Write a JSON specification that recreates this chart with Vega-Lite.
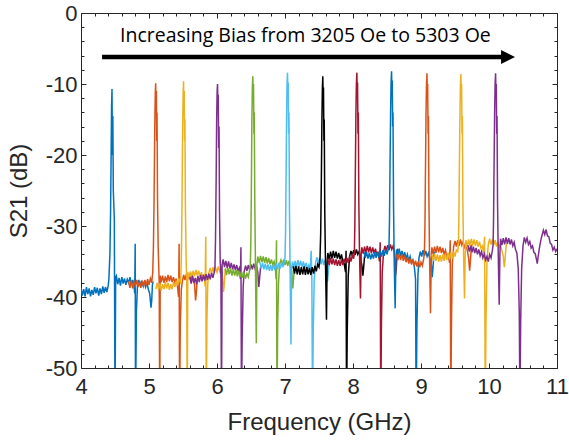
{
  "$schema": "https://vega.github.io/schema/vega-lite/v6.json",
  "autosize": {"type": "none"},
  "width": 476,
  "height": 355,
  "padding": {"left": 81, "top": 13, "right": 12, "bottom": 75},
  "background": "white",
  "config": {
    "view": {"stroke": "#262626", "strokeWidth": 1},
    "axis": {
      "labelFont": "Liberation Sans",
      "titleFont": "Liberation Sans",
      "labelColor": "#262626",
      "titleColor": "#262626",
      "tickColor": "#262626",
      "domainColor": "#262626",
      "labelFontSize": 22,
      "titleFontSize": 24,
      "titleFontWeight": "normal",
      "grid": false,
      "domain": false
    }
  },
  "resolve": {"axis": {"x": "independent", "y": "independent"}},
  "layer": [
    {
      "data": {"values": [
{"f":4.00,"s":-38.7,"t":1},{"f":4.02,"s":-39.8,"t":1},{"f":4.04,"s":-38.9,"t":1},{"f":4.06,"s":-39.9,"t":1},{"f":4.08,"s":-38.6,"t":1},{"f":4.10,"s":-39.6,"t":1},{"f":4.12,"s":-38.8,"t":1},{"f":4.14,"s":-39.9,"t":1},{"f":4.16,"s":-39.0,"t":1},{"f":4.18,"s":-39.7,"t":1},{"f":4.20,"s":-38.6,"t":1},{"f":4.22,"s":-39.5,"t":1},{"f":4.24,"s":-38.7,"t":1},{"f":4.26,"s":-39.8,"t":1},{"f":4.28,"s":-38.8,"t":1},{"f":4.30,"s":-39.6,"t":1},{"f":4.32,"s":-38.5,"t":1},{"f":4.34,"s":-39.4,"t":1},{"f":4.36,"s":-38.6,"t":1},{"f":4.38,"s":-39.3,"t":1},{"f":4.40,"s":-38.4,"t":1},{"f":4.41,"s":-37.5,"t":1},{"f":4.425,"s":-34,"t":1},{"f":4.435,"s":-28,"t":1},{"f":4.443,"s":-20,"t":1},{"f":4.45,"s":-13,"t":1},{"f":4.456,"s":-10.7,"t":1},{"f":4.462,"s":-20,"t":1},{"f":4.468,"s":-14.5,"t":1},{"f":4.475,"s":-25,"t":1},{"f":4.49,"s":-29,"t":1},{"f":4.50,"s":-56,"t":1},{"f":4.51,"s":-37.2,"t":1},{"f":4.52,"s":-37.0,"t":1},{"f":4.54,"s":-38.2,"t":1},{"f":4.56,"s":-37.3,"t":1},{"f":4.58,"s":-38.4,"t":1},{"f":4.60,"s":-37.2,"t":1},{"f":4.62,"s":-38.1,"t":1},{"f":4.64,"s":-37.4,"t":1},{"f":4.66,"s":-38.3,"t":1},{"f":4.68,"s":-37.5,"t":1},{"f":4.70,"s":-38.0,"t":1},{"f":4.72,"s":-37.2,"t":1},{"f":4.74,"s":-38.3,"t":1},{"f":4.76,"s":-37.6,"t":1},{"f":4.78,"s":-38.4,"t":1},{"f":4.79,"s":-39.5,"t":1},{"f":4.797,"s":-32.5,"t":1},{"f":4.802,"s":-56,"t":1},{"f":4.815,"s":-42,"t":1},{"f":4.83,"s":-38.5,"t":1},{"f":4.85,"s":-37.6,"t":1},{"f":4.87,"s":-38.4,"t":1},{"f":4.89,"s":-37.7,"t":1},{"f":4.91,"s":-38.5,"t":1},{"f":4.93,"s":-37.8,"t":1},{"f":4.95,"s":-38.6,"t":1},{"f":4.97,"s":-38.0,"t":1},{"f":4.99,"s":-38.9,"t":1},{"f":5.01,"s":-39.5,"t":1},{"f":5.03,"s":-41.5,"t":1},{"f":5.04,"s":-40.5,"t":1},{"f":5.05,"s":-38.3,"t":1},{"f":5.06,"s":-37.8,"t":1},
{"f":4.70,"s":-37.8,"t":2},{"f":4.72,"s":-38.7,"t":2},{"f":4.74,"s":-37.7,"t":2},{"f":4.76,"s":-38.8,"t":2},{"f":4.78,"s":-37.9,"t":2},{"f":4.80,"s":-38.5,"t":2},{"f":4.82,"s":-37.6,"t":2},{"f":4.84,"s":-38.6,"t":2},{"f":4.86,"s":-37.8,"t":2},{"f":4.88,"s":-38.7,"t":2},{"f":4.90,"s":-37.9,"t":2},{"f":4.92,"s":-38.5,"t":2},{"f":4.94,"s":-37.6,"t":2},{"f":4.96,"s":-38.4,"t":2},{"f":4.98,"s":-37.5,"t":2},{"f":5.00,"s":-38.3,"t":2},{"f":5.02,"s":-37.4,"t":2},{"f":5.04,"s":-38.0,"t":2},{"f":5.055,"s":-36.5,"t":2},{"f":5.065,"s":-33,"t":2},{"f":5.075,"s":-26,"t":2},{"f":5.085,"s":-16,"t":2},{"f":5.092,"s":-11.5,"t":2},{"f":5.098,"s":-9.9,"t":2},{"f":5.103,"s":-13,"t":2},{"f":5.108,"s":-11,"t":2},{"f":5.113,"s":-18,"t":2},{"f":5.118,"s":-14,"t":2},{"f":5.125,"s":-26,"t":2},{"f":5.135,"s":-33,"t":2},{"f":5.15,"s":-38,"t":2},{"f":5.158,"s":-56,"t":2},{"f":5.165,"s":-37.0,"t":2},{"f":5.18,"s":-37.9,"t":2},{"f":5.20,"s":-37.0,"t":2},{"f":5.22,"s":-38.0,"t":2},{"f":5.24,"s":-37.1,"t":2},{"f":5.26,"s":-37.9,"t":2},{"f":5.28,"s":-36.9,"t":2},{"f":5.30,"s":-37.8,"t":2},{"f":5.32,"s":-37.0,"t":2},{"f":5.34,"s":-37.9,"t":2},{"f":5.36,"s":-37.2,"t":2},{"f":5.38,"s":-38.0,"t":2},{"f":5.40,"s":-37.4,"t":2},{"f":5.42,"s":-38.6,"t":2},{"f":5.435,"s":-40,"t":2},{"f":5.443,"s":-32.5,"t":2},{"f":5.45,"s":-56,"t":2},{"f":5.46,"s":-44,"t":2},{"f":5.475,"s":-39,"t":2},{"f":5.49,"s":-37.8,"t":2},{"f":5.51,"s":-36.9,"t":2},{"f":5.53,"s":-37.6,"t":2},{"f":5.55,"s":-36.8,"t":2},{"f":5.57,"s":-37.5,"t":2},{"f":5.59,"s":-36.7,"t":2},{"f":5.61,"s":-37.6,"t":2},{"f":5.63,"s":-36.9,"t":2},{"f":5.65,"s":-37.7,"t":2},{"f":5.67,"s":-38.2,"t":2},{"f":5.685,"s":-40.5,"t":2},{"f":5.695,"s":-39.5,"t":2},{"f":5.71,"s":-37.5,"t":2},{"f":5.72,"s":-37.0,"t":2},
{"f":5.10,"s":-38.9,"t":3},{"f":5.12,"s":-38.0,"t":3},{"f":5.14,"s":-39.0,"t":3},{"f":5.16,"s":-38.1,"t":3},{"f":5.18,"s":-39.1,"t":3},{"f":5.20,"s":-38.2,"t":3},{"f":5.22,"s":-38.9,"t":3},{"f":5.24,"s":-37.9,"t":3},{"f":5.26,"s":-38.8,"t":3},{"f":5.28,"s":-38.0,"t":3},{"f":5.30,"s":-39.0,"t":3},{"f":5.32,"s":-38.2,"t":3},{"f":5.34,"s":-38.9,"t":3},{"f":5.36,"s":-37.9,"t":3},{"f":5.38,"s":-38.6,"t":3},{"f":5.40,"s":-37.7,"t":3},{"f":5.42,"s":-38.4,"t":3},{"f":5.44,"s":-37.5,"t":3},{"f":5.46,"s":-37.9,"t":3},{"f":5.47,"s":-36.8,"t":3},{"f":5.478,"s":-33,"t":3},{"f":5.487,"s":-25,"t":3},{"f":5.495,"s":-16,"t":3},{"f":5.502,"s":-11.5,"t":3},{"f":5.508,"s":-9.6,"t":3},{"f":5.513,"s":-13,"t":3},{"f":5.518,"s":-11,"t":3},{"f":5.523,"s":-18,"t":3},{"f":5.528,"s":-15,"t":3},{"f":5.535,"s":-27,"t":3},{"f":5.545,"s":-34,"t":3},{"f":5.555,"s":-38,"t":3},{"f":5.562,"s":-56,"t":3},{"f":5.57,"s":-36.5,"t":3},{"f":5.59,"s":-37.3,"t":3},{"f":5.61,"s":-36.4,"t":3},{"f":5.63,"s":-37.2,"t":3},{"f":5.65,"s":-36.3,"t":3},{"f":5.67,"s":-37.1,"t":3},{"f":5.69,"s":-36.2,"t":3},{"f":5.71,"s":-37.0,"t":3},{"f":5.73,"s":-36.3,"t":3},{"f":5.75,"s":-37.2,"t":3},{"f":5.77,"s":-36.5,"t":3},{"f":5.79,"s":-37.4,"t":3},{"f":5.81,"s":-36.8,"t":3},{"f":5.825,"s":-38.5,"t":3},{"f":5.835,"s":-31.5,"t":3},{"f":5.842,"s":-56,"t":3},{"f":5.852,"s":-43,"t":3},{"f":5.865,"s":-38,"t":3},{"f":5.88,"s":-36.6,"t":3},{"f":5.90,"s":-35.9,"t":3},{"f":5.92,"s":-36.7,"t":3},{"f":5.94,"s":-35.8,"t":3},{"f":5.96,"s":-36.6,"t":3},{"f":5.98,"s":-35.9,"t":3},{"f":6.00,"s":-36.5,"t":3},{"f":6.02,"s":-35.7,"t":3},{"f":6.04,"s":-36.4,"t":3},{"f":6.06,"s":-35.8,"t":3},{"f":6.08,"s":-37.0,"t":3},{"f":6.095,"s":-39.3,"t":3},{"f":6.105,"s":-38.5,"t":3},{"f":6.12,"s":-36.3,"t":3},{"f":6.13,"s":-35.9,"t":3},
{"f":5.60,"s":-37.2,"t":4},{"f":5.62,"s":-38.1,"t":4},{"f":5.64,"s":-37.0,"t":4},{"f":5.66,"s":-38.0,"t":4},{"f":5.68,"s":-37.3,"t":4},{"f":5.70,"s":-38.2,"t":4},{"f":5.72,"s":-37.1,"t":4},{"f":5.74,"s":-37.9,"t":4},{"f":5.76,"s":-36.9,"t":4},{"f":5.78,"s":-37.8,"t":4},{"f":5.80,"s":-36.9,"t":4},{"f":5.82,"s":-37.7,"t":4},{"f":5.84,"s":-36.8,"t":4},{"f":5.86,"s":-37.6,"t":4},{"f":5.88,"s":-36.7,"t":4},{"f":5.90,"s":-37.5,"t":4},{"f":5.92,"s":-36.6,"t":4},{"f":5.94,"s":-37.3,"t":4},{"f":5.96,"s":-36.5,"t":4},{"f":5.97,"s":-35.8,"t":4},{"f":5.978,"s":-32,"t":4},{"f":5.987,"s":-24,"t":4},{"f":5.995,"s":-15,"t":4},{"f":6.002,"s":-11,"t":4},{"f":6.008,"s":-10.0,"t":4},{"f":6.013,"s":-13,"t":4},{"f":6.018,"s":-11.5,"t":4},{"f":6.024,"s":-19,"t":4},{"f":6.03,"s":-16,"t":4},{"f":6.037,"s":-28,"t":4},{"f":6.047,"s":-35,"t":4},{"f":6.058,"s":-37,"t":4},{"f":6.066,"s":-56,"t":4},{"f":6.075,"s":-35.5,"t":4},{"f":6.09,"s":-34.7,"t":4},{"f":6.11,"s":-35.8,"t":4},{"f":6.13,"s":-34.9,"t":4},{"f":6.15,"s":-35.9,"t":4},{"f":6.17,"s":-35.0,"t":4},{"f":6.19,"s":-36.0,"t":4},{"f":6.21,"s":-35.2,"t":4},{"f":6.23,"s":-36.1,"t":4},{"f":6.25,"s":-35.4,"t":4},{"f":6.27,"s":-36.2,"t":4},{"f":6.29,"s":-35.5,"t":4},{"f":6.31,"s":-36.3,"t":4},{"f":6.33,"s":-35.9,"t":4},{"f":6.345,"s":-37.5,"t":4},{"f":6.352,"s":-33,"t":4},{"f":6.36,"s":-56,"t":4},{"f":6.37,"s":-46,"t":4},{"f":6.385,"s":-38.5,"t":4},{"f":6.40,"s":-36.4,"t":4},{"f":6.42,"s":-35.6,"t":4},{"f":6.44,"s":-36.3,"t":4},{"f":6.46,"s":-35.5,"t":4},{"f":6.48,"s":-36.2,"t":4},{"f":6.50,"s":-35.4,"t":4},{"f":6.52,"s":-36.1,"t":4},{"f":6.54,"s":-35.3,"t":4},{"f":6.56,"s":-36.0,"t":4},{"f":6.58,"s":-35.6,"t":4},{"f":6.60,"s":-36.5,"t":4},{"f":6.615,"s":-38.6,"t":4},{"f":6.625,"s":-37.5,"t":4},{"f":6.64,"s":-35.9,"t":4},{"f":6.65,"s":-35.5,"t":4},
{"f":6.12,"s":-36.0,"t":5},{"f":6.14,"s":-36.9,"t":5},{"f":6.16,"s":-35.9,"t":5},{"f":6.18,"s":-36.8,"t":5},{"f":6.20,"s":-36.0,"t":5},{"f":6.22,"s":-37.0,"t":5},{"f":6.24,"s":-36.1,"t":5},{"f":6.26,"s":-37.0,"t":5},{"f":6.28,"s":-36.2,"t":5},{"f":6.30,"s":-37.1,"t":5},{"f":6.32,"s":-36.3,"t":5},{"f":6.34,"s":-37.2,"t":5},{"f":6.36,"s":-36.4,"t":5},{"f":6.38,"s":-37.3,"t":5},{"f":6.40,"s":-36.6,"t":5},{"f":6.42,"s":-37.4,"t":5},{"f":6.44,"s":-36.7,"t":5},{"f":6.46,"s":-37.2,"t":5},{"f":6.48,"s":-36.2,"t":5},{"f":6.49,"s":-35.6,"t":5},{"f":6.498,"s":-32,"t":5},{"f":6.506,"s":-24,"t":5},{"f":6.513,"s":-15,"t":5},{"f":6.52,"s":-10.5,"t":5},{"f":6.527,"s":-8.9,"t":5},{"f":6.532,"s":-12,"t":5},{"f":6.537,"s":-10,"t":5},{"f":6.543,"s":-17,"t":5},{"f":6.548,"s":-14,"t":5},{"f":6.556,"s":-27,"t":5},{"f":6.566,"s":-36,"t":5},{"f":6.578,"s":-46.5,"t":5},{"f":6.587,"s":-35.5,"t":5},{"f":6.60,"s":-34.3,"t":5},{"f":6.62,"s":-35.2,"t":5},{"f":6.64,"s":-34.2,"t":5},{"f":6.66,"s":-35.1,"t":5},{"f":6.68,"s":-34.3,"t":5},{"f":6.70,"s":-35.2,"t":5},{"f":6.72,"s":-34.4,"t":5},{"f":6.74,"s":-35.3,"t":5},{"f":6.76,"s":-34.5,"t":5},{"f":6.78,"s":-35.4,"t":5},{"f":6.80,"s":-34.7,"t":5},{"f":6.82,"s":-35.5,"t":5},{"f":6.84,"s":-35.0,"t":5},{"f":6.86,"s":-36.0,"t":5},{"f":6.868,"s":-37.5,"t":5},{"f":6.875,"s":-32,"t":5},{"f":6.882,"s":-56,"t":5},{"f":6.892,"s":-44,"t":5},{"f":6.905,"s":-38,"t":5},{"f":6.92,"s":-35.4,"t":5},{"f":6.94,"s":-34.8,"t":5},{"f":6.96,"s":-35.6,"t":5},{"f":6.98,"s":-34.7,"t":5},{"f":7.00,"s":-35.5,"t":5},{"f":7.02,"s":-34.8,"t":5},{"f":7.04,"s":-35.6,"t":5},{"f":7.06,"s":-34.9,"t":5},{"f":7.08,"s":-35.7,"t":5},{"f":7.10,"s":-36.5,"t":5},{"f":7.115,"s":-38.8,"t":5},{"f":7.125,"s":-37.5,"t":5},{"f":7.14,"s":-35.8,"t":5},{"f":7.15,"s":-35.2,"t":5},
{"f":6.63,"s":-35.1,"t":6},{"f":6.65,"s":-36.0,"t":6},{"f":6.67,"s":-35.2,"t":6},{"f":6.69,"s":-36.1,"t":6},{"f":6.71,"s":-35.3,"t":6},{"f":6.73,"s":-36.2,"t":6},{"f":6.75,"s":-35.4,"t":6},{"f":6.77,"s":-36.3,"t":6},{"f":6.79,"s":-35.5,"t":6},{"f":6.81,"s":-36.3,"t":6},{"f":6.83,"s":-35.4,"t":6},{"f":6.85,"s":-36.2,"t":6},{"f":6.87,"s":-35.3,"t":6},{"f":6.89,"s":-36.1,"t":6},{"f":6.91,"s":-35.2,"t":6},{"f":6.93,"s":-36.0,"t":6},{"f":6.95,"s":-35.1,"t":6},{"f":6.97,"s":-35.8,"t":6},{"f":6.99,"s":-35.0,"t":6},{"f":7.00,"s":-34.5,"t":6},{"f":7.008,"s":-31,"t":6},{"f":7.016,"s":-23,"t":6},{"f":7.023,"s":-15,"t":6},{"f":7.03,"s":-10,"t":6},{"f":7.037,"s":-8.4,"t":6},{"f":7.042,"s":-11.5,"t":6},{"f":7.047,"s":-9.8,"t":6},{"f":7.053,"s":-17,"t":6},{"f":7.058,"s":-14,"t":6},{"f":7.066,"s":-28,"t":6},{"f":7.076,"s":-37,"t":6},{"f":7.088,"s":-46.7,"t":6},{"f":7.097,"s":-36,"t":6},{"f":7.11,"s":-35.0,"t":6},{"f":7.13,"s":-35.9,"t":6},{"f":7.15,"s":-34.9,"t":6},{"f":7.17,"s":-35.8,"t":6},{"f":7.19,"s":-34.8,"t":6},{"f":7.21,"s":-35.7,"t":6},{"f":7.23,"s":-34.9,"t":6},{"f":7.25,"s":-35.8,"t":6},{"f":7.27,"s":-35.0,"t":6},{"f":7.29,"s":-35.9,"t":6},{"f":7.31,"s":-35.2,"t":6},{"f":7.33,"s":-36.0,"t":6},{"f":7.35,"s":-35.5,"t":6},{"f":7.37,"s":-36.4,"t":6},{"f":7.385,"s":-33.5,"t":6},{"f":7.395,"s":-37.5,"t":6},{"f":7.405,"s":-56,"t":6},{"f":7.415,"s":-45,"t":6},{"f":7.43,"s":-37.5,"t":6},{"f":7.45,"s":-35.2,"t":6},{"f":7.47,"s":-34.4,"t":6},{"f":7.49,"s":-35.3,"t":6},{"f":7.51,"s":-34.5,"t":6},{"f":7.53,"s":-35.4,"t":6},{"f":7.55,"s":-34.6,"t":6},{"f":7.57,"s":-35.5,"t":6},{"f":7.59,"s":-34.8,"t":6},{"f":7.61,"s":-35.8,"t":6},{"f":7.625,"s":-37.8,"t":6},{"f":7.635,"s":-36.8,"t":6},{"f":7.65,"s":-35.0,"t":6},{"f":7.66,"s":-34.6,"t":6},
{"f":7.12,"s":-35.7,"t":7},{"f":7.14,"s":-36.7,"t":7},{"f":7.16,"s":-35.6,"t":7},{"f":7.18,"s":-36.8,"t":7},{"f":7.20,"s":-35.7,"t":7},{"f":7.22,"s":-36.9,"t":7},{"f":7.24,"s":-35.8,"t":7},{"f":7.26,"s":-36.8,"t":7},{"f":7.28,"s":-35.7,"t":7},{"f":7.30,"s":-36.9,"t":7},{"f":7.32,"s":-35.8,"t":7},{"f":7.34,"s":-36.8,"t":7},{"f":7.36,"s":-35.9,"t":7},{"f":7.38,"s":-36.9,"t":7},{"f":7.40,"s":-35.8,"t":7},{"f":7.42,"s":-36.7,"t":7},{"f":7.44,"s":-35.6,"t":7},{"f":7.46,"s":-36.4,"t":7},{"f":7.48,"s":-35.4,"t":7},{"f":7.50,"s":-35.8,"t":7},{"f":7.515,"s":-34.5,"t":7},{"f":7.525,"s":-31,"t":7},{"f":7.535,"s":-23,"t":7},{"f":7.543,"s":-15,"t":7},{"f":7.55,"s":-10.5,"t":7},{"f":7.556,"s":-8.9,"t":7},{"f":7.561,"s":-12,"t":7},{"f":7.566,"s":-10.5,"t":7},{"f":7.572,"s":-18,"t":7},{"f":7.577,"s":-15,"t":7},{"f":7.585,"s":-28,"t":7},{"f":7.595,"s":-35,"t":7},{"f":7.61,"s":-43.2,"t":7},{"f":7.62,"s":-35,"t":7},{"f":7.63,"s":-33.8,"t":7},{"f":7.65,"s":-34.7,"t":7},{"f":7.67,"s":-33.6,"t":7},{"f":7.69,"s":-34.6,"t":7},{"f":7.71,"s":-33.5,"t":7},{"f":7.73,"s":-34.5,"t":7},{"f":7.75,"s":-33.6,"t":7},{"f":7.77,"s":-34.6,"t":7},{"f":7.79,"s":-33.8,"t":7},{"f":7.81,"s":-34.7,"t":7},{"f":7.83,"s":-34.0,"t":7},{"f":7.85,"s":-35.0,"t":7},{"f":7.87,"s":-35.3,"t":7},{"f":7.89,"s":-36.5,"t":7},{"f":7.898,"s":-33.5,"t":7},{"f":7.905,"s":-56,"t":7},{"f":7.915,"s":-45,"t":7},{"f":7.93,"s":-37,"t":7},{"f":7.95,"s":-34.3,"t":7},{"f":7.97,"s":-33.5,"t":7},{"f":7.99,"s":-34.2,"t":7},{"f":8.01,"s":-33.4,"t":7},{"f":8.03,"s":-34.1,"t":7},{"f":8.05,"s":-33.3,"t":7},{"f":8.07,"s":-34.0,"t":7},{"f":8.09,"s":-33.6,"t":7},{"f":8.11,"s":-34.5,"t":7},{"f":8.13,"s":-35.5,"t":7},{"f":8.145,"s":-37.0,"t":7},{"f":8.155,"s":-36.0,"t":7},{"f":8.17,"s":-34.3,"t":7},{"f":8.18,"s":-33.8,"t":7},
{"f":7.63,"s":-34.6,"t":8},{"f":7.65,"s":-35.5,"t":8},{"f":7.67,"s":-34.5,"t":8},{"f":7.69,"s":-35.4,"t":8},{"f":7.71,"s":-34.6,"t":8},{"f":7.73,"s":-35.5,"t":8},{"f":7.75,"s":-34.7,"t":8},{"f":7.77,"s":-35.6,"t":8},{"f":7.79,"s":-34.8,"t":8},{"f":7.81,"s":-35.6,"t":8},{"f":7.83,"s":-34.7,"t":8},{"f":7.85,"s":-35.5,"t":8},{"f":7.87,"s":-34.6,"t":8},{"f":7.89,"s":-35.3,"t":8},{"f":7.91,"s":-34.5,"t":8},{"f":7.93,"s":-35.2,"t":8},{"f":7.95,"s":-34.3,"t":8},{"f":7.97,"s":-35.0,"t":8},{"f":7.99,"s":-34.1,"t":8},{"f":8.01,"s":-34.6,"t":8},{"f":8.02,"s":-33.8,"t":8},{"f":8.027,"s":-30,"t":8},{"f":8.035,"s":-22,"t":8},{"f":8.043,"s":-14,"t":8},{"f":8.05,"s":-10,"t":8},{"f":8.057,"s":-8.4,"t":8},{"f":8.062,"s":-11.5,"t":8},{"f":8.067,"s":-9.8,"t":8},{"f":8.073,"s":-17,"t":8},{"f":8.078,"s":-14,"t":8},{"f":8.086,"s":-27,"t":8},{"f":8.096,"s":-34,"t":8},{"f":8.11,"s":-40.2,"t":8},{"f":8.12,"s":-34,"t":8},{"f":8.13,"s":-33.0,"t":8},{"f":8.15,"s":-33.9,"t":8},{"f":8.17,"s":-32.9,"t":8},{"f":8.19,"s":-33.8,"t":8},{"f":8.21,"s":-32.8,"t":8},{"f":8.23,"s":-33.7,"t":8},{"f":8.25,"s":-32.9,"t":8},{"f":8.27,"s":-33.8,"t":8},{"f":8.29,"s":-33.0,"t":8},{"f":8.31,"s":-33.9,"t":8},{"f":8.33,"s":-33.2,"t":8},{"f":8.35,"s":-34.1,"t":8},{"f":8.37,"s":-33.8,"t":8},{"f":8.39,"s":-35.0,"t":8},{"f":8.40,"s":-32.3,"t":8},{"f":8.408,"s":-56,"t":8},{"f":8.418,"s":-44,"t":8},{"f":8.43,"s":-36.5,"t":8},{"f":8.45,"s":-33.6,"t":8},{"f":8.47,"s":-32.8,"t":8},{"f":8.49,"s":-33.5,"t":8},{"f":8.51,"s":-32.7,"t":8},{"f":8.53,"s":-33.4,"t":8},{"f":8.55,"s":-32.6,"t":8},{"f":8.57,"s":-33.3,"t":8},{"f":8.59,"s":-32.8,"t":8},{"f":8.61,"s":-33.8,"t":8},{"f":8.625,"s":-37.0,"t":8},{"f":8.635,"s":-36.2,"t":8},{"f":8.65,"s":-33.6,"t":8},{"f":8.66,"s":-33.2,"t":8},
{"f":8.16,"s":-33.6,"t":9},{"f":8.18,"s":-34.5,"t":9},{"f":8.20,"s":-33.7,"t":9},{"f":8.22,"s":-34.6,"t":9},{"f":8.24,"s":-33.8,"t":9},{"f":8.26,"s":-34.7,"t":9},{"f":8.28,"s":-33.9,"t":9},{"f":8.30,"s":-34.6,"t":9},{"f":8.32,"s":-33.7,"t":9},{"f":8.34,"s":-34.5,"t":9},{"f":8.36,"s":-33.6,"t":9},{"f":8.38,"s":-34.4,"t":9},{"f":8.40,"s":-33.5,"t":9},{"f":8.42,"s":-34.3,"t":9},{"f":8.44,"s":-33.4,"t":9},{"f":8.46,"s":-34.2,"t":9},{"f":8.48,"s":-33.3,"t":9},{"f":8.50,"s":-34.0,"t":9},{"f":8.52,"s":-33.2,"t":9},{"f":8.53,"s":-32.6,"t":9},{"f":8.537,"s":-29,"t":9},{"f":8.545,"s":-21,"t":9},{"f":8.553,"s":-14,"t":9},{"f":8.56,"s":-9.8,"t":9},{"f":8.567,"s":-8.2,"t":9},{"f":8.572,"s":-11,"t":9},{"f":8.577,"s":-9.5,"t":9},{"f":8.583,"s":-16,"t":9},{"f":8.588,"s":-14,"t":9},{"f":8.596,"s":-27,"t":9},{"f":8.606,"s":-35,"t":9},{"f":8.62,"s":-41.6,"t":9},{"f":8.63,"s":-35,"t":9},{"f":8.64,"s":-33.3,"t":9},{"f":8.66,"s":-34.1,"t":9},{"f":8.68,"s":-33.2,"t":9},{"f":8.70,"s":-34.2,"t":9},{"f":8.72,"s":-33.5,"t":9},{"f":8.74,"s":-34.4,"t":9},{"f":8.76,"s":-33.7,"t":9},{"f":8.78,"s":-34.6,"t":9},{"f":8.80,"s":-34.0,"t":9},{"f":8.82,"s":-34.9,"t":9},{"f":8.84,"s":-34.3,"t":9},{"f":8.86,"s":-35.2,"t":9},{"f":8.88,"s":-34.8,"t":9},{"f":8.90,"s":-35.6,"t":9},{"f":8.91,"s":-36.5,"t":9},{"f":8.92,"s":-37.5,"t":9},{"f":8.928,"s":-56,"t":9},{"f":8.94,"s":-44,"t":9},{"f":8.955,"s":-37,"t":9},{"f":8.97,"s":-34.5,"t":9},{"f":8.99,"s":-33.6,"t":9},{"f":9.01,"s":-34.3,"t":9},{"f":9.03,"s":-33.4,"t":9},{"f":9.05,"s":-34.2,"t":9},{"f":9.07,"s":-33.5,"t":9},{"f":9.09,"s":-34.3,"t":9},{"f":9.11,"s":-33.8,"t":9},{"f":9.13,"s":-34.6,"t":9},{"f":9.15,"s":-35.2,"t":9},{"f":9.165,"s":-37.2,"t":9},{"f":9.175,"s":-36.0,"t":9},{"f":9.19,"s":-34.0,"t":9},{"f":9.20,"s":-33.6,"t":9},
{"f":8.64,"s":-34.0,"t":10},{"f":8.66,"s":-34.8,"t":10},{"f":8.68,"s":-33.9,"t":10},{"f":8.70,"s":-34.8,"t":10},{"f":8.72,"s":-34.0,"t":10},{"f":8.74,"s":-34.9,"t":10},{"f":8.76,"s":-34.2,"t":10},{"f":8.78,"s":-35.1,"t":10},{"f":8.80,"s":-34.4,"t":10},{"f":8.82,"s":-35.3,"t":10},{"f":8.84,"s":-34.6,"t":10},{"f":8.86,"s":-35.4,"t":10},{"f":8.88,"s":-34.7,"t":10},{"f":8.90,"s":-35.6,"t":10},{"f":8.92,"s":-34.9,"t":10},{"f":8.94,"s":-35.7,"t":10},{"f":8.96,"s":-35.0,"t":10},{"f":8.98,"s":-35.8,"t":10},{"f":9.00,"s":-35.1,"t":10},{"f":9.02,"s":-35.6,"t":10},{"f":9.04,"s":-34.6,"t":10},{"f":9.05,"s":-33.8,"t":10},{"f":9.058,"s":-30,"t":10},{"f":9.066,"s":-22,"t":10},{"f":9.074,"s":-14,"t":10},{"f":9.081,"s":-10,"t":10},{"f":9.088,"s":-8.5,"t":10},{"f":9.093,"s":-11.5,"t":10},{"f":9.098,"s":-10,"t":10},{"f":9.104,"s":-17,"t":10},{"f":9.109,"s":-14.5,"t":10},{"f":9.117,"s":-27,"t":10},{"f":9.127,"s":-35,"t":10},{"f":9.14,"s":-42.3,"t":10},{"f":9.15,"s":-35,"t":10},{"f":9.16,"s":-33.0,"t":10},{"f":9.18,"s":-33.9,"t":10},{"f":9.20,"s":-32.9,"t":10},{"f":9.22,"s":-33.8,"t":10},{"f":9.24,"s":-32.8,"t":10},{"f":9.26,"s":-33.7,"t":10},{"f":9.28,"s":-32.9,"t":10},{"f":9.30,"s":-33.8,"t":10},{"f":9.32,"s":-33.1,"t":10},{"f":9.34,"s":-34.0,"t":10},{"f":9.36,"s":-33.4,"t":10},{"f":9.38,"s":-34.3,"t":10},{"f":9.40,"s":-34.0,"t":10},{"f":9.42,"s":-35.2,"t":10},{"f":9.43,"s":-32.0,"t":10},{"f":9.438,"s":-56,"t":10},{"f":9.448,"s":-44,"t":10},{"f":9.46,"s":-35.5,"t":10},{"f":9.48,"s":-32.9,"t":10},{"f":9.50,"s":-32.1,"t":10},{"f":9.52,"s":-32.9,"t":10},{"f":9.54,"s":-32.0,"t":10},{"f":9.56,"s":-32.8,"t":10},{"f":9.58,"s":-31.9,"t":10},{"f":9.60,"s":-32.7,"t":10},{"f":9.62,"s":-32.2,"t":10},{"f":9.64,"s":-33.0,"t":10},{"f":9.66,"s":-32.6,"t":10},{"f":9.68,"s":-33.4,"t":10},{"f":9.70,"s":-34.5,"t":10},{"f":9.715,"s":-36.3,"t":10},{"f":9.725,"s":-35.2,"t":10},{"f":9.74,"s":-33.0,"t":10},{"f":9.75,"s":-32.6,"t":10},
{"f":9.16,"s":-34.0,"t":11},{"f":9.18,"s":-34.9,"t":11},{"f":9.20,"s":-33.9,"t":11},{"f":9.22,"s":-34.9,"t":11},{"f":9.24,"s":-34.0,"t":11},{"f":9.26,"s":-35.0,"t":11},{"f":9.28,"s":-34.1,"t":11},{"f":9.30,"s":-35.0,"t":11},{"f":9.32,"s":-34.0,"t":11},{"f":9.34,"s":-34.9,"t":11},{"f":9.36,"s":-33.9,"t":11},{"f":9.38,"s":-34.8,"t":11},{"f":9.40,"s":-33.8,"t":11},{"f":9.42,"s":-34.7,"t":11},{"f":9.44,"s":-33.7,"t":11},{"f":9.46,"s":-34.6,"t":11},{"f":9.48,"s":-33.6,"t":11},{"f":9.50,"s":-34.3,"t":11},{"f":9.52,"s":-33.4,"t":11},{"f":9.54,"s":-33.6,"t":11},{"f":9.55,"s":-32.6,"t":11},{"f":9.557,"s":-29,"t":11},{"f":9.565,"s":-21,"t":11},{"f":9.573,"s":-14,"t":11},{"f":9.58,"s":-10,"t":11},{"f":9.587,"s":-8.6,"t":11},{"f":9.592,"s":-11.5,"t":11},{"f":9.597,"s":-10,"t":11},{"f":9.603,"s":-17,"t":11},{"f":9.608,"s":-14.5,"t":11},{"f":9.616,"s":-27,"t":11},{"f":9.626,"s":-34,"t":11},{"f":9.64,"s":-40.2,"t":11},{"f":9.65,"s":-34,"t":11},{"f":9.66,"s":-32.0,"t":11},{"f":9.68,"s":-32.9,"t":11},{"f":9.70,"s":-31.9,"t":11},{"f":9.72,"s":-32.8,"t":11},{"f":9.74,"s":-31.8,"t":11},{"f":9.76,"s":-32.7,"t":11},{"f":9.78,"s":-31.9,"t":11},{"f":9.80,"s":-32.8,"t":11},{"f":9.82,"s":-32.0,"t":11},{"f":9.84,"s":-32.9,"t":11},{"f":9.86,"s":-32.2,"t":11},{"f":9.88,"s":-33.1,"t":11},{"f":9.90,"s":-32.8,"t":11},{"f":9.92,"s":-33.8,"t":11},{"f":9.935,"s":-31.5,"t":11},{"f":9.945,"s":-56,"t":11},{"f":9.955,"s":-44,"t":11},{"f":9.97,"s":-35,"t":11},{"f":9.99,"s":-32.6,"t":11},{"f":10.01,"s":-31.8,"t":11},{"f":10.03,"s":-32.6,"t":11},{"f":10.05,"s":-31.9,"t":11},{"f":10.07,"s":-32.7,"t":11},{"f":10.09,"s":-32.0,"t":11},{"f":10.11,"s":-32.9,"t":11},{"f":10.13,"s":-32.2,"t":11},{"f":10.15,"s":-33.0,"t":11},{"f":10.17,"s":-32.6,"t":11},{"f":10.19,"s":-33.5,"t":11},{"f":10.21,"s":-34.2,"t":11},{"f":10.225,"s":-35.8,"t":11},{"f":10.235,"s":-34.8,"t":11},{"f":10.25,"s":-33.0,"t":11},{"f":10.26,"s":-32.5,"t":11},
{"f":9.69,"s":-32.7,"t":12},{"f":9.71,"s":-33.6,"t":12},{"f":9.73,"s":-32.8,"t":12},{"f":9.75,"s":-33.7,"t":12},{"f":9.77,"s":-32.9,"t":12},{"f":9.79,"s":-33.8,"t":12},{"f":9.81,"s":-33.1,"t":12},{"f":9.83,"s":-34.0,"t":12},{"f":9.85,"s":-33.3,"t":12},{"f":9.87,"s":-34.2,"t":12},{"f":9.89,"s":-33.6,"t":12},{"f":9.91,"s":-34.5,"t":12},{"f":9.93,"s":-33.9,"t":12},{"f":9.95,"s":-34.8,"t":12},{"f":9.97,"s":-34.3,"t":12},{"f":9.99,"s":-35.0,"t":12},{"f":10.01,"s":-34.0,"t":12},{"f":10.03,"s":-34.5,"t":12},{"f":10.05,"s":-33.4,"t":12},{"f":10.06,"s":-32.7,"t":12},{"f":10.067,"s":-29,"t":12},{"f":10.075,"s":-21,"t":12},{"f":10.083,"s":-14,"t":12},{"f":10.09,"s":-10,"t":12},{"f":10.097,"s":-8.5,"t":12},{"f":10.102,"s":-11.5,"t":12},{"f":10.107,"s":-10,"t":12},{"f":10.113,"s":-17,"t":12},{"f":10.118,"s":-14.5,"t":12},{"f":10.126,"s":-27,"t":12},{"f":10.136,"s":-34,"t":12},{"f":10.15,"s":-41.1,"t":12},{"f":10.16,"s":-34,"t":12},{"f":10.17,"s":-31.8,"t":12},{"f":10.19,"s":-32.7,"t":12},{"f":10.21,"s":-31.7,"t":12},{"f":10.23,"s":-32.6,"t":12},{"f":10.25,"s":-31.6,"t":12},{"f":10.27,"s":-32.5,"t":12},{"f":10.29,"s":-31.7,"t":12},{"f":10.31,"s":-32.6,"t":12},{"f":10.33,"s":-31.9,"t":12},{"f":10.35,"s":-32.8,"t":12},{"f":10.37,"s":-32.3,"t":12},{"f":10.39,"s":-33.3,"t":12},{"f":10.41,"s":-33.8,"t":12},{"f":10.43,"s":-36,"t":12},{"f":10.445,"s":-42,"t":12},{"f":10.455,"s":-56,"t":12},{"f":10.465,"s":-44,"t":12},{"f":10.48,"s":-36,"t":12},{"f":10.50,"s":-32.8,"t":12},{"f":10.52,"s":-31.6,"t":12},{"f":10.54,"s":-32.3,"t":12},{"f":10.56,"s":-31.7,"t":12},{"f":10.58,"s":-32.6,"t":12},{"f":10.60,"s":-32.2,"t":12},{"f":10.62,"s":-33.1,"t":12},{"f":10.64,"s":-32.8,"t":12},{"f":10.66,"s":-33.7,"t":12},{"f":10.68,"s":-33.9,"t":12},{"f":10.70,"s":-34.8,"t":12},{"f":10.71,"s":-35.3,"t":12},{"f":10.72,"s":-34.5,"t":12},{"f":10.74,"s":-33.2,"t":12},{"f":10.76,"s":-32.1,"t":12},{"f":10.78,"s":-31.3,"t":12},{"f":10.80,"s":-30.6,"t":12},{"f":10.82,"s":-31.2,"t":12},{"f":10.84,"s":-30.5,"t":12},{"f":10.86,"s":-31.4,"t":12},{"f":10.88,"s":-31.5,"t":12},{"f":10.90,"s":-32.4,"t":12},{"f":10.92,"s":-32.6,"t":12},{"f":10.94,"s":-33.4,"t":12},{"f":10.96,"s":-33.0,"t":12},{"f":10.98,"s":-33.6,"t":12},{"f":11.00,"s":-33.2,"t":12}
      ]},
      "mark": {"type": "line", "strokeWidth": 1.5, "clip": true},
      "encoding": {
        "x": {"field": "f", "type": "quantitative",
          "scale": {"domain": [4, 11], "nice": false, "zero": false},
          "axis": {"orient": "bottom", "title": "Frequency (GHz)",
            "values": [4,4.2,4.4,4.6,4.8,5,5.2,5.4,5.6,5.8,6,6.2,6.4,6.6,6.8,7,7.2,7.4,7.6,7.8,8,8.2,8.4,8.6,8.8,9,9.2,9.4,9.6,9.8,10,10.2,10.4,10.6,10.8,11],
            "labelExpr": "datum.value % 1 === 0 ? '' + datum.value : ''",
            "labelOverlap": false, "labelFlush": false,
            "tickSize": {"condition": {"test": "datum.value % 1 === 0", "value": -5}, "value": -3},
            "labelPadding": 13, "titlePadding": 11}},
        "y": {"field": "s", "type": "quantitative",
          "scale": {"domain": [-50, 0], "nice": false, "zero": false},
          "axis": {"orient": "left", "title": "S21 (dB)",
            "values": [-50,-48,-46,-44,-42,-40,-38,-36,-34,-32,-30,-28,-26,-24,-22,-20,-18,-16,-14,-12,-10,-8,-6,-4,-2,0],
            "labelExpr": "datum.value % 10 === 0 ? '' + datum.value : ''",
            "labelOverlap": false, "labelFlush": false,
            "tickSize": {"condition": {"test": "datum.value % 10 === 0", "value": -5}, "value": -3},
            "labelPadding": 9, "titlePadding": 14}},
        "color": {"field": "t", "type": "nominal",
          "scale": {"domain": [1,2,3,4,5,6,7,8,9,10,11,12],
            "range": ["#0072BD","#D95319","#EDB120","#7E2F8E","#77AC30","#4DBEEE","#000000","#A2142F","#0072BD","#D95319","#EDB120","#7E2F8E"]},
          "legend": null}
      }
    },
    {
      "data": {"values": [{"x1": 4.31, "x2": 10.24, "y": -6.2}]},
      "mark": {"type": "rule", "strokeWidth": 4.5, "color": "black"},
      "encoding": {
        "x": {"field": "x1", "type": "quantitative",
          "scale": {"domain": [4, 11], "nice": false, "zero": false},
          "axis": {"orient": "top", "title": null, "labels": false,
            "values": [4,4.2,4.4,4.6,4.8,5,5.2,5.4,5.6,5.8,6,6.2,6.4,6.6,6.8,7,7.2,7.4,7.6,7.8,8,8.2,8.4,8.6,8.8,9,9.2,9.4,9.6,9.8,10,10.2,10.4,10.6,10.8,11],
            "tickSize": {"condition": {"test": "datum.value % 1 === 0", "value": -5}, "value": -3}}},
        "x2": {"field": "x2"},
        "y": {"field": "y", "type": "quantitative",
          "scale": {"domain": [-50, 0], "nice": false, "zero": false},
          "axis": {"orient": "right", "title": null, "labels": false,
            "values": [-50,-48,-46,-44,-42,-40,-38,-36,-34,-32,-30,-28,-26,-24,-22,-20,-18,-16,-14,-12,-10,-8,-6,-4,-2,0],
            "tickSize": {"condition": {"test": "datum.value % 10 === 0", "value": -5}, "value": -3}}}
      }
    },
    {
      "data": {"values": [{"x": 10.28, "y": -6.2}]},
      "mark": {"type": "point", "shape": "M-1,-1L1,0L-1,1Z", "filled": true, "color": "black", "opacity": 1, "size": 196, "strokeWidth": 0},
      "encoding": {
        "x": {"field": "x", "type": "quantitative", "scale": {"domain": [4, 11], "nice": false, "zero": false}, "axis": null},
        "y": {"field": "y", "type": "quantitative", "scale": {"domain": [-50, 0], "nice": false, "zero": false}, "axis": null}
      }
    },
    {
      "data": {"values": [{"x": 7.30, "y": -3.3, "label": "Increasing Bias from 3205 Oe to 5303 Oe"}]},
      "mark": {"type": "text", "font": "Open Sans", "fontSize": 19.5, "color": "black", "align": "center", "baseline": "middle"},
      "encoding": {
        "x": {"field": "x", "type": "quantitative", "scale": {"domain": [4, 11], "nice": false, "zero": false}, "axis": null},
        "y": {"field": "y", "type": "quantitative", "scale": {"domain": [-50, 0], "nice": false, "zero": false}, "axis": null},
        "text": {"field": "label"}
      }
    }
  ]
}
